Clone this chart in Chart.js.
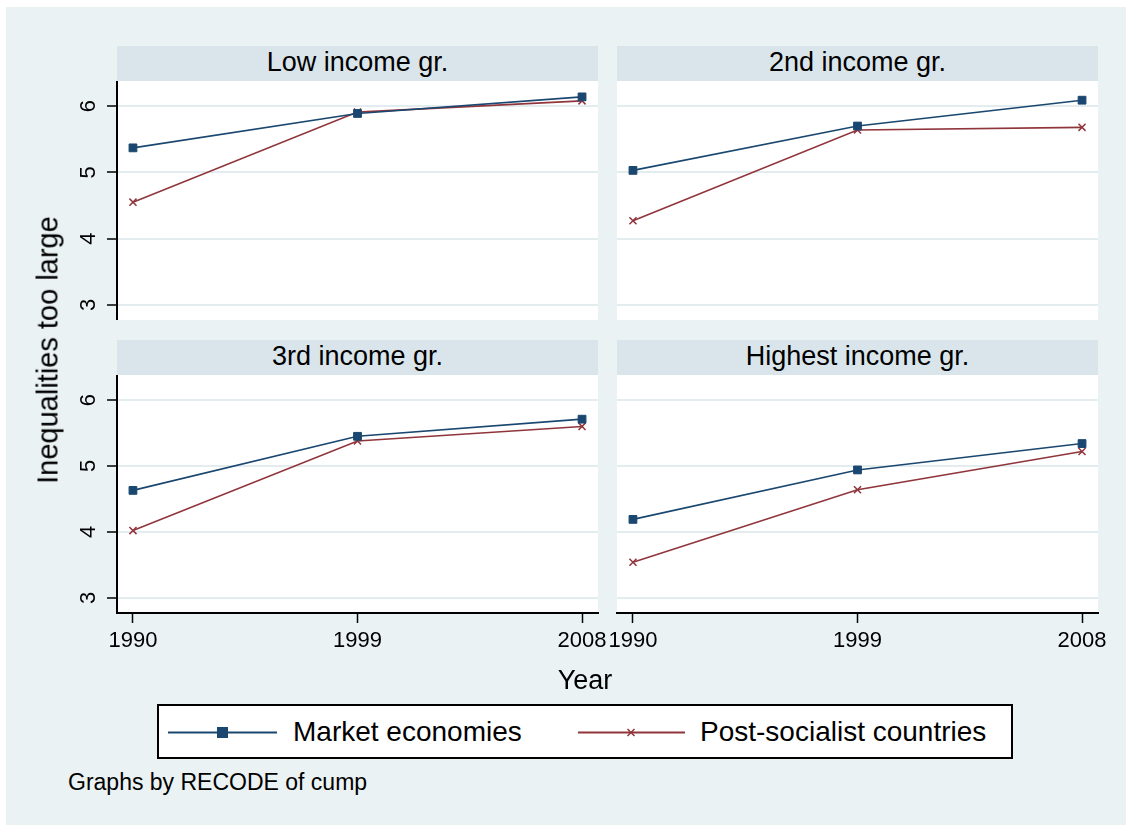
<!DOCTYPE html>
<html>
<head>
<meta charset="utf-8">
<script src="https://cdn.jsdelivr.net/npm/chart.js@4.4.1/dist/chart.umd.min.js"></script>
<style>
  body { margin: 0; background: #fff; font-family: "Liberation Sans", Arial, sans-serif; color: #000; }
  #page { position: absolute; left: 6px; top: 7px; width: 1120px; height: 818px; background: #eaf2f3; }
  .abs { position: absolute; white-space: nowrap; }
  .strip { position: absolute; background: #d9e5ea; height: 35px; line-height: 33px; text-align: center; font-size: 27px; }
  canvas { position: absolute; }
</style>
</head>
<body>
<div id="page"></div>

<div class="strip" style="left:117px; top:46px; width:481px;" id="t0"></div>
<div class="strip" style="left:617px; top:46px; width:481px;" id="t1"></div>
<div class="strip" style="left:117px; top:340px; width:481px;" id="t2"></div>
<div class="strip" style="left:617px; top:340px; width:481px;" id="t3"></div>

<canvas id="c0" width="560" height="239" style="left:60px; top:81px;"></canvas>
<canvas id="c1" width="520" height="239" style="left:600px; top:81px;"></canvas>
<canvas id="c2" width="560" height="290" style="left:60px; top:375px;"></canvas>
<canvas id="c3" width="520" height="290" style="left:600px; top:375px;"></canvas>

<div class="abs" style="left:48px; top:350px; font-size:29px; transform:translate(-50%,-50%) rotate(-90deg);">Inequalities too large</div>
<div class="abs" style="left:585px; top:680px; font-size:27px; line-height:27px; transform:translate(-50%,-50%);">Year</div>

<div class="abs" style="left:157px; top:704px; width:852px; height:51px; border:2px solid #000; background:#fff;"></div>
<svg class="abs" style="left:160px; top:715px;" width="130" height="36">
  <line x1="8" y1="17.5" x2="117" y2="17.5" stroke="#1a476f" stroke-width="2"/>
  <rect x="57" y="12" width="11" height="11" fill="#1a476f"/>
</svg>
<svg class="abs" style="left:570px; top:715px;" width="130" height="36">
  <line x1="8" y1="17.5" x2="115" y2="17.5" stroke="#90353b" stroke-width="2"/>
  <path d="M57.5 14 L64.5 21 M64.5 14 L57.5 21" stroke="#90353b" stroke-width="1.5"/>
</svg>
<div class="abs" id="lg0" style="left:293px; top:716px; font-size:28px; line-height:32px;"></div>
<div class="abs" id="lg1" style="left:700px; top:716px; font-size:28px; line-height:32px;"></div>

<div class="abs" style="left:68px; top:769px; font-size:23px; line-height:27px;">Graphs by RECODE of cump</div>

<script>
const years = [1990, 1999, 2008];
const yTicks = [3, 4, 5, 6];
const panelTitles = ['Low income gr.', '2nd income gr.', '3rd income gr.', 'Highest income gr.'];
const seriesNames = ['Market economies', 'Post-socialist countries'];

const marketLow = [5.37, 5.89, 6.14];
const postLow = [4.55, 5.91, 6.08];
const market2nd = [5.03, 5.70, 6.09];
const post2nd = [4.27, 5.64, 5.68];
const market3rd = [4.63, 5.45, 5.71];
const post3rd = [4.02, 5.38, 5.60];
const marketHigh = [4.19, 4.94, 5.34];
const postHigh = [3.54, 4.64, 5.22];

const navy = '#1a476f';
const maroon = '#90353b';
const grid = '#e3ecef';
const tickFont = '22px "Liberation Sans", Arial, sans-serif';

document.getElementById('lg0').textContent = seriesNames[0];
document.getElementById('lg1').textContent = seriesNames[1];
panelTitles.forEach((t, i) => { document.getElementById('t' + i).textContent = t; });

// white plot region
const plotBg = {
  id: 'plotBg',
  beforeDraw(chart) {
    const { ctx, chartArea: a } = chart;
    ctx.save();
    ctx.fillStyle = '#fff';
    ctx.fillRect(a.left, a.top, a.right - a.left, a.bottom - a.top);
    ctx.restore();
  }
};

// vertical (rotated) y labels, like stata's angle(vertical)
const yLabels = {
  id: 'yLabels',
  afterDraw(chart, args, opts) {
    if (!opts.show) return;
    const s = chart.scales.y;
    const ctx = chart.ctx;
    ctx.save();
    ctx.font = tickFont;
    ctx.fillStyle = '#000';
    ctx.textAlign = 'center';
    ctx.textBaseline = 'alphabetic';
    s.ticks.forEach(t => {
      const y = s.getPixelForValue(t.value);
      ctx.save();
      ctx.translate(s.right - 22, y);
      ctx.rotate(-Math.PI / 2);
      ctx.fillText(String(t.value), 0, 0);
      ctx.restore();
    });
    ctx.restore();
  }
};

const toPts = (vals) => vals.map((v, i) => ({ x: years[i], y: v }));

function makePanel(id, market, post, showY, showX, pad) {
  new Chart(document.getElementById(id), {
    type: 'line',
    data: {
      datasets: [
        {
          label: seriesNames[0],
          data: toPts(market),
          borderColor: navy,
          backgroundColor: navy,
          borderWidth: 1.6,
          pointStyle: 'rect',
          pointRadius: 5.5,
          pointBorderWidth: 1,
          tension: 0
        },
        {
          label: seriesNames[1],
          data: toPts(post),
          borderColor: maroon,
          backgroundColor: maroon,
          borderWidth: 1.6,
          pointStyle: 'crossRot',
          pointRadius: 5,
          pointBorderWidth: 1.5,
          tension: 0
        }
      ]
    },
    options: {
      responsive: false,
      animation: false,
      layout: { autoPadding: false, padding: { left: pad[0], right: pad[1], top: 0, bottom: 0 } },
      plugins: { legend: { display: false }, tooltip: { enabled: false }, yLabels: { show: showY } },
      scales: {
        x: {
          type: 'linear',
          display: showX,
          min: 1989.36,
          max: 2008.64,
          afterBuildTicks: (s) => { s.ticks = years.map(v => ({ value: v })); },
          afterFit: (s) => { s.height = showX ? 52 : 0; s.paddingLeft = 0; s.paddingRight = 0; },
          grid: { display: true, drawOnChartArea: false, drawTicks: true, tickLength: 10, tickColor: '#000', tickWidth: 1.5 },
          border: { display: true, color: '#000', width: 2 },
          ticks: { color: '#000', padding: 5, maxRotation: 0, font: { size: 22, family: '"Liberation Sans", Arial' },
                   callback: (v) => String(v) }
        },
        y: {
          min: 2.77,
          max: 6.38,
          afterBuildTicks: (s) => { s.ticks = yTicks.map(v => ({ value: v })); },
          afterFit: (s) => { s.width = showY ? 45 : 0; s.paddingTop = 0; s.paddingBottom = 0; },
          grid: { color: grid, lineWidth: 2, drawTicks: showY, tickLength: 10, tickColor: '#000', tickWidth: 1.5 },
          border: { display: showY, color: '#000', width: 2 },
          ticks: { display: false }
        }
      }
    },
    plugins: [plotBg, yLabels]
  });
}

makePanel('c0', marketLow, postLow, true, false, [12, 22]);
makePanel('c1', market2nd, post2nd, false, false, [17, 22]);
makePanel('c2', market3rd, post3rd, true, true, [12, 22]);
makePanel('c3', marketHigh, postHigh, false, true, [17, 22]);
</script>
</body>
</html>
